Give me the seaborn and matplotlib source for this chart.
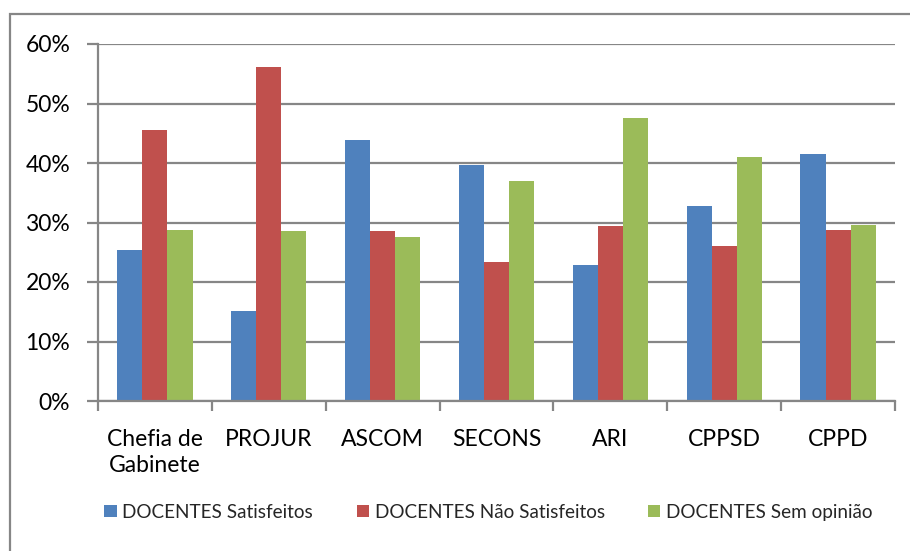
import matplotlib
matplotlib.use("Agg")
import matplotlib.pyplot as plt
import seaborn as sns
import pandas as pd
from matplotlib.patches import Rectangle
from matplotlib.ticker import PercentFormatter, FixedLocator

categories = ["Chefia de\nGabinete", "PROJUR", "ASCOM", "SECONS", "ARI", "CPPSD", "CPPD"]
series_names = ["DOCENTES Satisfeitos", "DOCENTES Não Satisfeitos", "DOCENTES Sem opinião"]
satisfeitos = [25.3, 15.2, 43.8, 39.6, 22.8, 32.7, 41.5]
nao_satisfeitos = [45.6, 56.1, 28.5, 23.3, 29.4, 26.1, 28.7]
sem_opiniao = [28.8, 28.5, 27.6, 37.0, 47.5, 41.0, 29.6]
y_ticks = [0, 10, 20, 30, 40, 50, 60]

colors = ["#4F81BD", "#C0504D", "#9BBB59"]

rows = []
for name, vals in zip(series_names, [satisfeitos, nao_satisfeitos, sem_opiniao]):
    for c, v in zip(categories, vals):
        rows.append({"cat": c, "serie": name, "val": v})
df = pd.DataFrame(rows)

sns.set_theme(style="white")
plt.rcParams["font.family"] = ["Lato", "DejaVu Sans"]

fig = plt.figure(figsize=(9.10, 5.51), dpi=100)
ax = fig.add_axes([98 / 910, 1 - 401 / 551, (895 - 98) / 910, (401 - 44) / 551])

sns.barplot(data=df, x="cat", y="val", hue="serie", order=categories,
            hue_order=series_names, palette=colors, width=0.66,
            saturation=1, ax=ax, edgecolor="none", linewidth=0, legend=True)

ax.set_xlim(-0.5, len(categories) - 0.5)
ax.set_ylim(0, 60)
ax.yaxis.set_major_locator(FixedLocator(y_ticks))
ax.yaxis.set_major_formatter(PercentFormatter(decimals=0))
ax.set_xlabel("")
ax.set_ylabel("")
ax.grid(axis="y", color="#868686", linewidth=1.6)
ax.set_axisbelow(True)

for s in ["top", "right"]:
    ax.spines[s].set_visible(False)
for s in ["left", "bottom"]:
    ax.spines[s].set_color("#868686")
    ax.spines[s].set_linewidth(1.6)

ax.tick_params(axis="y", which="major", left=True, length=8, width=1.6,
               color="#868686", labelsize=16.5, pad=12, labelcolor="black")
ax.tick_params(axis="x", which="major", bottom=False, labelsize=16.5, pad=14,
               labelcolor="black")
ax.set_xticks(range(len(categories)))
ax.set_xticklabels(categories, linespacing=1.3, va="top")
ax.set_xticks([i - 0.5 for i in range(len(categories) + 1)], minor=True)
ax.tick_params(axis="x", which="minor", bottom=True, length=7, width=1.6,
               color="#868686")

leg = ax.legend(loc="upper center", bbox_to_anchor=(0.49, -0.24), ncol=3,
                frameon=False, fontsize=13.6, handlelength=0.65, handleheight=0.65,
                handletextpad=0.3, columnspacing=2.3)

fig.patches.append(Rectangle((10 / 910, -0.1), 1.2, 1 - 14 / 551 + 0.1,
                             transform=fig.transFigure, fill=False,
                             edgecolor="#868686", linewidth=1.6))

fig.savefig("out.png", dpi=100, facecolor="white")
